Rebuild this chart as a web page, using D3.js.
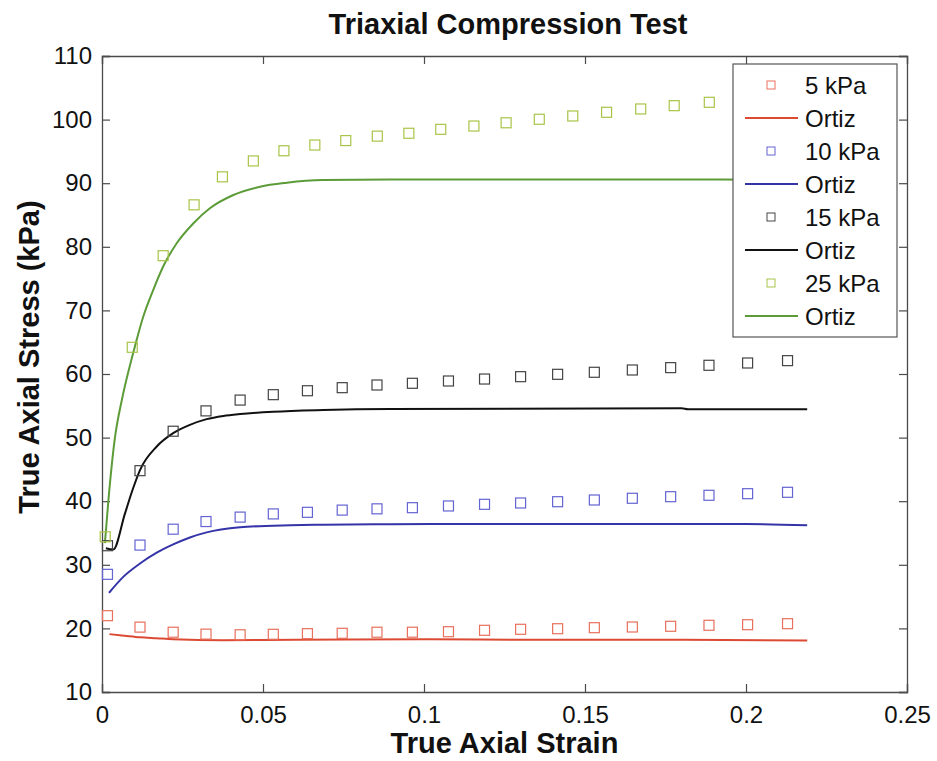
<!DOCTYPE html>
<html>
<head>
<meta charset="utf-8">
<script src="https://cdn.jsdelivr.net/npm/d3@7"></script>
<style>
  body { margin: 0; background: #fff; }
  text { font-family: "Liberation Sans", Arial, sans-serif; }
</style>
</head>
<body>
<svg id="chart" width="937" height="761"></svg>
<script>
// strain values where the 5/10/15 kPa tests were sampled
var testStrain = [0.0017, 0.0118, 0.0221, 0.0323, 0.0429, 0.0532, 0.0638, 0.0746, 0.0854, 0.0964,
                  0.1076, 0.1188, 0.1300, 0.1415, 0.1529, 0.1647, 0.1766, 0.1885, 0.2005, 0.2129];
var stress5  = [22.0, 20.2, 19.4, 19.1, 19.0, 19.07, 19.17, 19.23, 19.4, 19.4,
                19.48, 19.7, 19.86, 19.95, 20.11, 20.22, 20.33, 20.49, 20.58, 20.74];
var stress10 = [28.5, 33.1, 35.6, 36.8, 37.5, 38.0, 38.25, 38.6, 38.8, 38.98,
                39.25, 39.51, 39.72, 39.92, 40.19, 40.46, 40.71, 40.93, 41.18, 41.4];
var stress15 = [33.0, 44.8, 51.0, 54.2, 55.9, 56.75, 57.37, 57.85, 58.27, 58.54,
                58.9, 59.21, 59.58, 59.95, 60.27, 60.63, 61.0, 61.37, 61.73, 62.1];

// the 25 kPa test was sampled on its own grid
var strain25 = [0.0010, 0.0094, 0.0190, 0.0286, 0.0374, 0.0470, 0.0565, 0.0661, 0.0757, 0.0855,
                0.0953, 0.1052, 0.1155, 0.1255, 0.1358, 0.1462, 0.1567, 0.1673, 0.1777, 0.1886];
var stress25 = [34.4, 64.2, 78.6, 86.6, 91.0, 93.5, 95.1, 96.0, 96.7, 97.4,
                97.85, 98.47, 98.99, 99.5, 100.05, 100.57, 101.15, 101.67, 102.19, 102.72];

// Ortiz model curves, [strain, stress]
var ortiz5  = [[0.0023, 19.1], [0.0070, 18.85], [0.0118, 18.6], [0.0170, 18.45], [0.0221, 18.3],
               [0.0377, 18.15], [0.06, 18.2], [0.1, 18.3], [0.135, 18.2], [0.18, 18.2], [0.219, 18.1]];
var ortiz10 = [[0.0022, 25.6], [0.0066, 28.1], [0.0118, 30.2], [0.0170, 31.9], [0.0221, 33.2],
               [0.0273, 34.3], [0.0325, 35.1], [0.0429, 35.9], [0.0532, 36.15], [0.0687, 36.3],
               [0.0894, 36.37], [0.13, 36.42], [0.20, 36.42], [0.219, 36.2]];
var ortiz15 = [[0.0012, 32.6], [0.0035, 32.4], [0.0071, 38.0], [0.0095, 41.8], [0.0118, 44.9],
               [0.0170, 48.6], [0.0221, 50.7], [0.0273, 52.0], [0.0325, 52.9], [0.0377, 53.4],
               [0.0429, 53.7], [0.0532, 54.07], [0.0687, 54.34], [0.0894, 54.5], [0.18, 54.6],
               [0.182, 54.45], [0.219, 54.45]];
var ortiz25 = [[0.0009, 33.4], [0.0020, 40.2], [0.0040, 49.9], [0.0062, 56.0], [0.0085, 61.0],
               [0.0102, 64.3], [0.0128, 69.0], [0.0159, 73.2], [0.0190, 76.9], [0.0232, 80.55],
               [0.0284, 83.7], [0.0335, 86.05], [0.0408, 88.14], [0.0491, 89.45], [0.0574, 90.08],
               [0.0687, 90.5], [0.0894, 90.6], [0.187, 90.6], [0.219, 90.5]];

var xTicks = [0, 0.05, 0.1, 0.15, 0.2, 0.25];
var yTicks = [10, 20, 30, 40, 50, 60, 70, 80, 90, 100, 110];

var series = [
    {name: "5 kPa",  x: testStrain, y: stress5,  model: ortiz5,  marker: "#e8705c", line: "#dc4a34"},
    {name: "10 kPa", x: testStrain, y: stress10, model: ortiz10, marker: "#6464d2", line: "#3434a8"},
    {name: "15 kPa", x: testStrain, y: stress15, model: ortiz15, marker: "#444444", line: "#111111"},
    {name: "25 kPa", x: strain25,   y: stress25, model: ortiz25, marker: "#a8c448", line: "#5c9c38"}
];

var svg = d3.select("#chart");

var plotLeft = 102, plotRight = 907, plotTop = 56, plotBottom = 692;

var x = d3.scaleLinear().domain([0, 0.25]).range([plotLeft, plotRight]);
var y = d3.scaleLinear().domain([10, 110]).range([plotBottom, plotTop]);

var line = d3.line()
    .curve(d3.curveMonotoneX)
    .x(function(d) { return x(d[0]); })
    .y(function(d) { return y(d[1]); });

// frame + inward ticks on all four sides
var tickLen = 8;
svg.append("g")
    .attr("transform", "translate(0," + plotBottom + ")")
    .call(d3.axisBottom(x).tickValues(xTicks).tickSize(-tickLen).tickPadding(14)
          .tickFormat(function(d) { return d === 0 ? "0" : String(d); }))
    .call(styleAxis);
svg.append("g")
    .attr("transform", "translate(0," + plotTop + ")")
    .call(d3.axisTop(x).tickValues(xTicks).tickSize(-tickLen).tickFormat(""))
    .call(styleAxis);
svg.append("g")
    .attr("transform", "translate(" + plotLeft + ",0)")
    .call(d3.axisLeft(y).tickValues(yTicks).tickSize(-tickLen).tickPadding(10))
    .call(styleAxis);
svg.append("g")
    .attr("transform", "translate(" + plotRight + ",0)")
    .call(d3.axisRight(y).tickValues(yTicks).tickSize(-tickLen).tickFormat(""))
    .call(styleAxis);

function styleAxis(g) {
    g.select(".domain").attr("stroke", "#4a4a4a").attr("stroke-width", 1.3);
    g.selectAll(".tick line").attr("stroke", "#4a4a4a").attr("stroke-width", 1.2);
    g.selectAll(".tick text")
        .attr("fill", "#111")
        .style("font-size", "24px")
        .style("font-family", "'Liberation Sans', Arial, sans-serif");
}

// model curves
svg.append("g").selectAll("path")
    .data(series)
    .enter().append("path")
    .attr("d", function(d) { return line(d.model); })
    .attr("fill", "none")
    .attr("stroke", function(d) { return d.line; })
    .attr("stroke-width", 2);

// test data markers
var ms = 10;
series.forEach(function(s) {
    svg.append("g").selectAll("rect")
        .data(d3.range(s.x.length))
        .enter().append("rect")
        .attr("x", function(i) { return x(s.x[i]) - ms / 2; })
        .attr("y", function(i) { return y(s.y[i]) - ms / 2; })
        .attr("width", ms)
        .attr("height", ms)
        .attr("fill", "none")
        .attr("stroke", s.marker)
        .attr("stroke-width", 1.2);
});

// legend
var legend = svg.append("g").attr("transform", "translate(733,64)");
legend.append("rect")
    .attr("width", 164)
    .attr("height", 273)
    .attr("fill", "#fff")
    .attr("stroke", "#555")
    .attr("stroke-width", 1.2);

var entries = [];
series.forEach(function(s) {
    entries.push({type: "marker", label: s.name, color: s.marker});
    entries.push({type: "line", label: "Ortiz", color: s.line});
});

var item = legend.selectAll(".item")
    .data(entries)
    .enter().append("g")
    .attr("class", "item")
    .attr("transform", function(d, i) { return "translate(0," + (21 + i * 33) + ")"; });

item.filter(function(d) { return d.type === "marker"; })
    .append("rect")
    .attr("x", 34).attr("y", -4)
    .attr("width", 8).attr("height", 8)
    .attr("fill", "none")
    .attr("stroke", function(d) { return d.color; })
    .attr("stroke-width", 1);

item.filter(function(d) { return d.type === "line"; })
    .append("line")
    .attr("x1", 12).attr("x2", 65)
    .attr("stroke", function(d) { return d.color; })
    .attr("stroke-width", 2);

item.append("text")
    .attr("x", 72)
    .attr("dy", "0.36em")
    .attr("fill", "#111")
    .style("font-size", "24px")
    .text(function(d) { return d.label; });

// titles
svg.append("text")
    .attr("x", 508)
    .attr("y", 34)
    .attr("text-anchor", "middle")
    .attr("font-weight", "bold")
    .attr("fill", "#111")
    .style("font-size", "29px")
    .text("Triaxial Compression Test");

svg.append("text")
    .attr("x", (plotLeft + plotRight) / 2)
    .attr("y", 753)
    .attr("text-anchor", "middle")
    .attr("font-weight", "bold")
    .attr("fill", "#111")
    .style("font-size", "29px")
    .text("True Axial Strain");

svg.append("text")
    .attr("transform", "translate(39,357) rotate(-90)")
    .attr("text-anchor", "middle")
    .attr("font-weight", "bold")
    .attr("fill", "#111")
    .style("font-size", "29px")
    .text("True Axial Stress (kPa)");
</script>
</body>
</html>
